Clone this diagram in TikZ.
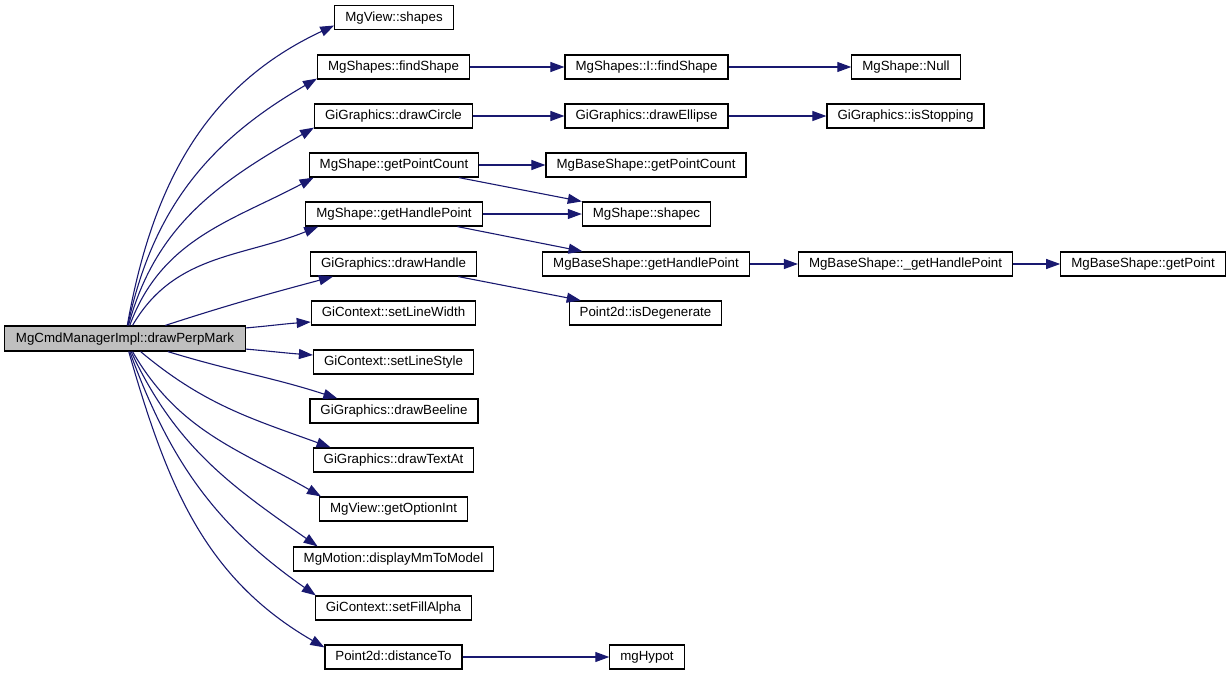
\documentclass[tikz,border=0pt]{standalone}
\usepackage{fontspec}
\setmainfont{Liberation Sans}
\usetikzlibrary{arrows.meta}
\definecolor{edgeblue}{RGB}{25,25,112}
\definecolor{maingray}{RGB}{191,191,191}
\begin{document}
\begin{tikzpicture}[x=1pt,y=-1pt,
  fn/.style={draw,line width=1.2pt,inner xsep=10.5pt,inner ysep=0pt,minimum height=24pt,
    text height=9.8pt,text depth=2.6pt,font=\fontsize{13.3pt}{16pt}\selectfont},
  call/.style={draw=edgeblue,line width=1.1pt,-{Triangle[length=14pt,width=10pt]},edgeblue}]
\useasboundingbox (0,0) rectangle (1231,677);
% caller
\node[fn,fill=maingray,inner xsep=11.5pt,minimum height=25pt] (main) at (125,338.5) {MgCmdManagerImpl::drawPerpMark};
% first column of callees
\node[fn] (vshapes) at (394,17.5) {MgView::shapes};
\node[fn] (findsh)  at (393.5,67) {MgShapes::findShape};
\node[fn] (circle)  at (393.5,116) {GiGraphics::drawCircle};
\node[fn] (ptcount) at (394,165) {MgShape::getPointCount};
\node[fn] (hpoint)  at (394,214) {MgShape::getHandlePoint};
\node[fn] (handle)  at (393.5,264) {GiGraphics::drawHandle};
\node[fn] (linew)   at (393.5,313) {GiContext::setLineWidth};
\node[fn] (lines)   at (393.5,362) {GiContext::setLineStyle};
\node[fn] (beeline) at (394,411) {GiGraphics::drawBeeline};
\node[fn] (textat)  at (393.5,460) {GiGraphics::drawTextAt};
\node[fn] (optint)  at (393.5,509) {MgView::getOptionInt};
\node[fn] (mm)      at (393.5,559) {MgMotion::displayMmToModel};
\node[fn] (alpha)   at (393.5,608) {GiContext::setFillAlpha};
\node[fn] (dist)    at (393.5,657) {Point2d::distanceTo};
% deeper levels
\node[fn] (ifindsh)  at (646.5,67) {MgShapes::I::findShape};
\node[fn] (null)     at (906,67) {MgShape::Null};
\node[fn] (ellipse)  at (646.5,116) {GiGraphics::drawEllipse};
\node[fn] (stopping) at (905.5,116) {GiGraphics::isStopping};
\node[fn] (bptcount) at (646,165) {MgBaseShape::getPointCount};
\node[fn] (shapec)   at (646.5,214) {MgShape::shapec};
\node[fn] (bhpoint)  at (646,264) {MgBaseShape::getHandlePoint};
\node[fn] (bhpointx) at (905.5,264) {MgBaseShape::\_getHandlePoint};
\node[fn] (getpt)    at (1143,264) {MgBaseShape::getPoint};
\node[fn] (degen)    at (645.5,313) {Point2d::isDegenerate};
\node[fn] (hypot)    at (647,657) {mgHypot};
% calls from drawPerpMark
\draw[call] (main) to[out=80,in=205] ([yshift=-8pt]vshapes.west);
\draw[call] (main) to[out=78,in=210] ([yshift=1pt]findsh.south west);
\draw[call] (main) to[out=75,in=210] ([yshift=1pt]circle.south west);
\draw[call] (main) to[out=70,in=208] ([xshift=5pt]ptcount.south west);
\draw[call] (main) to[out=60,in=202] ([xshift=13pt]hpoint.south west);
\draw[call] (main) to[out=18,in=195] ([xshift=23pt]handle.south west);
\draw[call] (main) to[out=5,in=184] ([yshift=-9pt]linew.west);
\draw[call] (main) to[out=-5,in=176] ([yshift=7pt]lines.west);
\draw[call] (main) to[out=-17,in=162] ([xshift=28pt]beeline.north west);
\draw[call] (main) to[out=-40,in=160] ([xshift=18pt]textat.north west);
\draw[call] (main) to[out=-60,in=150] ([xshift=2pt]optint.north west);
\draw[call] (main) to[out=-65,in=145] ([xshift=25pt]mm.north west);
\draw[call] (main) to[out=-70,in=145] ([xshift=1pt]alpha.north west);
\draw[call] (main) to[out=-74,in=150] ([yshift=-3pt]dist.north west);
% further calls
\draw[call] (findsh) -- (ifindsh);
\draw[call] (ifindsh) -- (null);
\draw[call] (circle) -- (ellipse);
\draw[call] (ellipse) -- (stopping);
\draw[call] (ptcount) -- (bptcount);
\draw[call] (ptcount) -- (shapec);
\draw[call] (hpoint) -- (shapec);
\draw[call] (hpoint) -- (bhpoint);
\draw[call] (handle) -- (degen);
\draw[call] (bhpoint) -- (bhpointx);
\draw[call] (bhpointx) -- (getpt);
\draw[call] (dist) -- (hypot);
\end{tikzpicture}
\end{document}
